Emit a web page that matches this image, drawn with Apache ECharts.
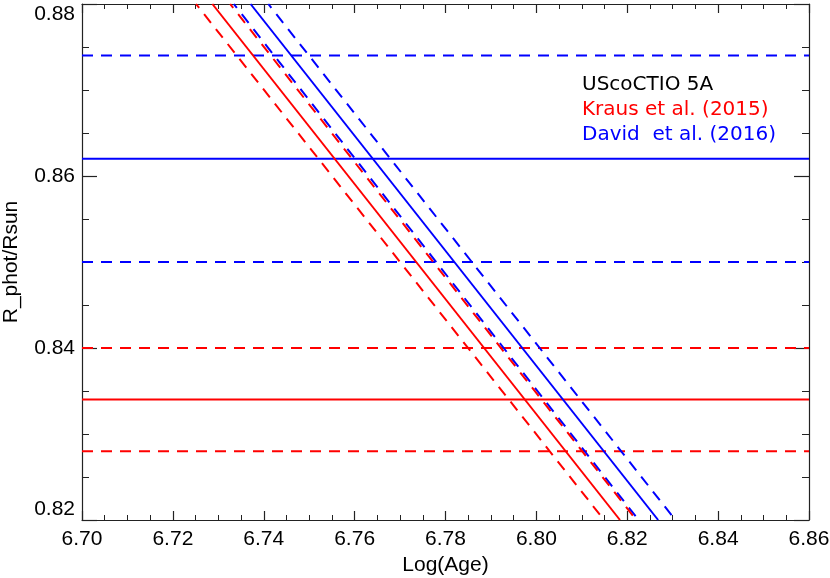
<!DOCTYPE html>
<html>
<head>
<meta charset="utf-8">
<script src="https://cdn.jsdelivr.net/npm/echarts@6/dist/echarts.min.js"></script>
<style>
  html, body { margin: 0; padding: 0; background: #fff; }
  #chart { width: 830px; height: 578px; }
</style>
</head>
<body>
<div id="chart"></div>
<script>
  // axis ranges
  const ageRange = [6.70, 6.86]
  const radiusRange = [0.82, 0.88]

  // radius measurements: [best, lower, upper]
  const krausRadius = [0.834, 0.828, 0.840]
  const davidRadius = [0.862, 0.850, 0.874]

  // isochrone track ages where it crosses the top (0.88) and bottom (0.82) of the plot
  // order: [best, lower, upper]
  const krausAgeTop = [6.7287, 6.7251, 6.7326]
  const krausAgeBottom = [6.8184, 6.8149, 6.8220]
  const davidAgeTop = [6.7371, 6.7334, 6.7410]
  const davidAgeBottom = [6.8268, 6.8225, 6.8306]

  const legendLines = ['UScoCTIO 5A', 'Kraus et al. (2015)', 'David  et al. (2016)']

  const RED = '#ff0000'
  const BLUE = '#0000ff'
  const DASH = [11, 8]
  const FONT = 'Liberation Sans, Arial, Helvetica, sans-serif'
  const LEGEND_FONT = 'DejaVu Sans, sans-serif'

  function hLine(y, color, dashed) {
    return {
      type: 'line',
      xAxisIndex: 0,
      yAxisIndex: 0,
      symbol: 'none',
      silent: true,
      data: [[ageRange[0], y], [ageRange[1], y]],
      lineStyle: { color: color, width: 2, type: dashed ? DASH : 'solid' }
    }
  }

  function dLine(xTop, xBottom, color, dashed) {
    return {
      type: 'line',
      xAxisIndex: 0,
      yAxisIndex: 0,
      symbol: 'none',
      silent: true,
      data: [[xTop, radiusRange[1]], [xBottom, radiusRange[0]]],
      lineStyle: { color: color, width: 2, type: dashed ? DASH : 'solid', dashOffset: 6 }
    }
  }

  let series = []
  for (let i = 0; i < 3; i++) {
    series.push(hLine(krausRadius[i], RED, i > 0))
    series.push(hLine(davidRadius[i], BLUE, i > 0))
  }
  for (let i = 0; i < 3; i++) {
    series.push(dLine(krausAgeTop[i], krausAgeBottom[i], RED, i > 0))
    series.push(dLine(davidAgeTop[i], davidAgeBottom[i], BLUE, i > 0))
  }

  const axisLine = { show: true, onZero: false, lineStyle: { color: '#222', width: 1.2 } }

  function xAxisOf(pos, withLabels) {
    return {
      type: 'value',
      position: pos,
      min: ageRange[0],
      max: ageRange[1],
      interval: 0.02,
      name: withLabels ? 'Log(Age)' : '',
      nameLocation: 'middle',
      nameGap: 32,
      nameTextStyle: { color: '#000', fontSize: 21, fontFamily: FONT },
      axisLine: axisLine,
      axisTick: { show: true, inside: true, length: 9, lineStyle: { color: '#222', width: 1.2 } },
      minorTick: { show: true, splitNumber: 4, length: 5, lineStyle: { color: '#222', width: 1 } },
      splitLine: { show: false },
      axisLabel: {
        show: withLabels,
        margin: 9,
        color: '#000',
        fontSize: 21,
        fontFamily: FONT,
        formatter: v => v.toFixed(2)
      }
    }
  }

  function yAxisOf(pos, withLabels) {
    return {
      type: 'value',
      position: pos,
      min: radiusRange[0],
      max: radiusRange[1],
      interval: 0.02,
      name: withLabels ? 'R_phot/Rsun' : '',
      nameLocation: 'middle',
      nameGap: 60,
      nameTextStyle: { color: '#000', fontSize: 21, fontFamily: FONT },
      axisLine: axisLine,
      axisTick: { show: true, inside: true, length: 15, lineStyle: { color: '#222', width: 1.2 } },
      minorTick: { show: true, splitNumber: 4, length: 7, lineStyle: { color: '#222', width: 1 } },
      splitLine: { show: false },
      axisLabel: {
        show: withLabels,
        margin: 7,
        color: '#000',
        fontSize: 21,
        fontFamily: FONT,
        verticalAlignMinLabel: 'bottom',
        verticalAlignMaxLabel: 'top',
        formatter: v => v.toFixed(2)
      }
    }
  }

  const chart = echarts.init(document.getElementById('chart'), null, { renderer: 'canvas' })
  chart.setOption({
    animation: false,
    backgroundColor: '#fff',
    grid: { left: 82, right: 21, top: 4, bottom: 58, containLabel: false, outerBoundsMode: 'none' },
    xAxis: [xAxisOf('bottom', true), xAxisOf('top', false)],
    yAxis: [yAxisOf('left', true), yAxisOf('right', false)],
    graphic: [
      { type: 'text', x: 582, y: 85, style: { text: legendLines[0], fill: '#000', fontSize: 20, fontFamily: LEGEND_FONT, verticalAlign: 'middle' } },
      { type: 'text', x: 582, y: 110, style: { text: legendLines[1], fill: RED, fontSize: 20, fontFamily: LEGEND_FONT, verticalAlign: 'middle' } },
      { type: 'text', x: 582, y: 135, style: { text: legendLines[2], fill: BLUE, fontSize: 20, fontFamily: LEGEND_FONT, verticalAlign: 'middle' } }
    ],
    series: series
  })
</script>
</body>
</html>
